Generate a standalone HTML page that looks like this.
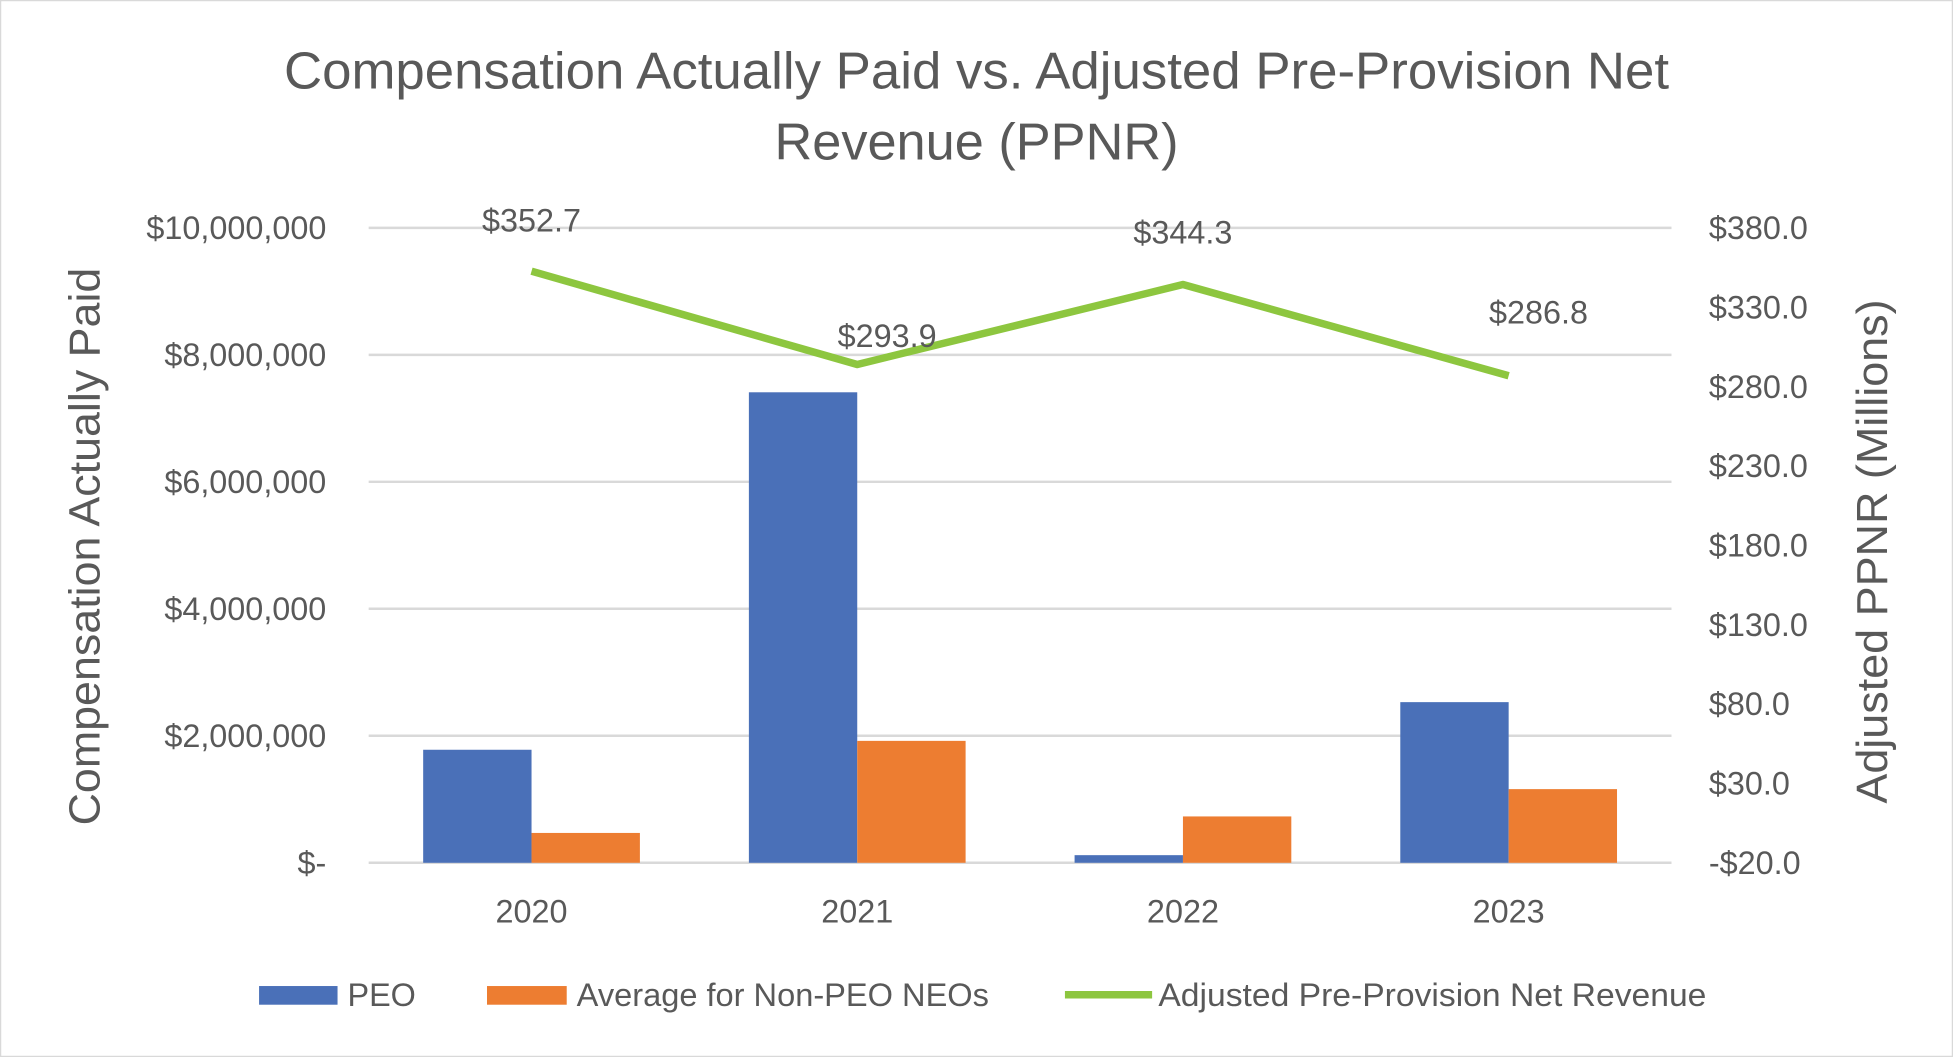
<!DOCTYPE html>
<html><head><meta charset="utf-8"><style>
html,body{margin:0;padding:0;background:#fff;}
svg{display:block;font-family:"Liberation Sans",sans-serif;}
</style></head><body>
<svg id="chart" width="1953" height="1057" viewBox="0 0 1568 849" preserveAspectRatio="none" xmlns="http://www.w3.org/2000/svg">
<rect x="0.5" y="0.5" width="1567" height="848" fill="#fff" stroke="#d9d9d9"/>
<text x="784" y="71" text-anchor="middle" font-size="42" fill="#595959" textLength="1112" lengthAdjust="spacingAndGlyphs">Compensation Actually Paid vs. Adjusted Pre-Provision Net</text>
<text x="784" y="128" text-anchor="middle" font-size="42" fill="#595959">Revenue (PPNR)</text>
<g id="grid"></g><g id="bars"></g><g id="line"></g><g id="labels"></g>
<text transform="translate(80,439) rotate(-90)" text-anchor="middle" font-size="35" fill="#595959" textLength="448" lengthAdjust="spacingAndGlyphs">Compensation Actually Paid</text>
<text transform="translate(1515,443) rotate(-90)" text-anchor="middle" font-size="35" fill="#595959" textLength="405" lengthAdjust="spacingAndGlyphs">Adjusted PPNR (Millions)</text>
<g font-size="26" fill="#595959">
<rect x="208" y="792" width="63" height="15" fill="#4a70b8"/>
<text x="279" y="808">PEO</text>
<rect x="391" y="792" width="64" height="15" fill="#ed7d31"/>
<text x="463" y="808" textLength="331" lengthAdjust="spacingAndGlyphs">Average for Non-PEO NEOs</text>
<line x1="855" y1="799" x2="925" y2="799" stroke="#8dc63f" stroke-width="6"/>
<text x="930" y="808" textLength="440" lengthAdjust="spacingAndGlyphs">Adjusted Pre-Provision Net Revenue</text>
</g>
</svg>
<script>
const categories=["2020","2021","2022","2023"];
const peo=[1780000,7410000,120000,2530000];
const neo=[470000,1920000,730000,1160000];
const ppnr=[352.7,293.9,344.3,286.8];
const ppnrLabels=["$352.7","$293.9","$344.3","$286.8"];
const leftTicks=[0,2000000,4000000,6000000,8000000,10000000];
const leftTickLabels=["$-","$2,000,000","$4,000,000","$6,000,000","$8,000,000","$10,000,000"];
const rightTicks=[-20,30,80,130,180,230,280,330,380];
const rightTickLabels=["-$20.0","$30.0","$80.0","$130.0","$180.0","$230.0","$280.0","$330.0","$380.0"];
const NS="http://www.w3.org/2000/svg";
const L=296,R=1342,T=183,B=693;
const yL=v=>B-(v/10000000)*(B-T);
const yR=v=>B-((v+20)/400)*(B-T);
const band=(R-L)/categories.length;
const xC=i=>L+band*(i+0.5);
const bw=87;
function mk(tag,attrs,parent,txt){const e=document.createElementNS(NS,tag);for(const k in attrs)e.setAttribute(k,attrs[k]);if(txt!==undefined)e.textContent=txt;document.getElementById(parent).appendChild(e);return e;}
leftTicks.forEach((v,i)=>{
 const g=mk('line',{x1:L,x2:R,y1:yL(v),y2:yL(v),stroke:'#d9d9d9','stroke-width':2},'grid');
 
 
 const t=mk('text',{x:262,y:yL(v)+9,'text-anchor':'end','font-size':26,fill:'#595959'},'grid',leftTickLabels[i]);
 
 
});
rightTicks.forEach((v,i)=>{
 const t=mk('text',{x:1372,y:yR(v)+9,'font-size':26,fill:'#595959'},'grid',rightTickLabels[i]);
 
 
});
categories.forEach((c,i)=>{
 const a=mk('rect',{x:xC(i)-bw,y:yL(peo[i]),width:bw,height:B-yL(peo[i]),fill:'#4a70b8'},'bars');
 
 
 const b=mk('rect',{x:xC(i),y:yL(neo[i]),width:bw,height:B-yL(neo[i]),fill:'#ed7d31'},'bars');
 
 
 const t=mk('text',{x:xC(i),y:741,'text-anchor':'middle','font-size':26,fill:'#595959'},'labels',c);
 
 
});
const pts=categories.map((c,i)=>xC(i)+','+yR(ppnr[i])).join(' ');
const pl=mk('polyline',{points:pts,fill:'none',stroke:'#8dc63f','stroke-width':6,'stroke-linejoin':'round'},'line');


const labelDx=[0,24,0,24];
const labelDy=[-32,-14,-33,-42];
categories.forEach((c,i)=>{
 const t=mk('text',{x:xC(i)+labelDx[i],y:yR(ppnr[i])+labelDy[i],'text-anchor':'middle','font-size':26,fill:'#595959'},'labels',ppnrLabels[i]);
 
 
});
</script>
</body></html>
